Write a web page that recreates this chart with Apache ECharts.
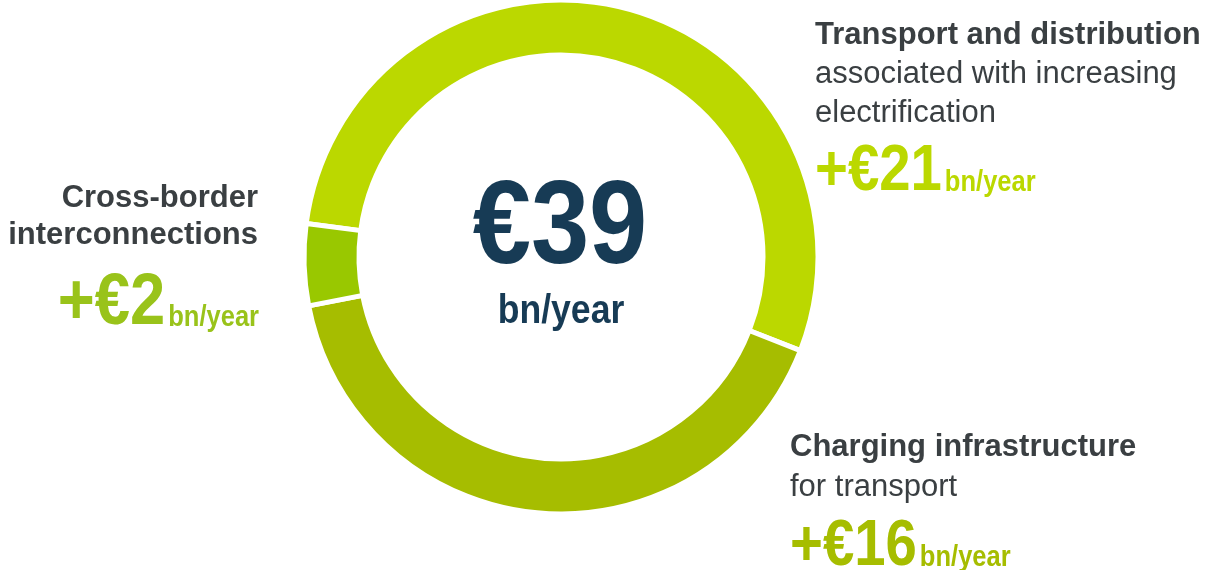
<!DOCTYPE html>
<html><head><meta charset="utf-8">
<script src="https://cdn.jsdelivr.net/npm/echarts@6/dist/echarts.min.js"></script>
<style>html,body{margin:0;padding:0;background:#fff}#c{width:1207px;height:570px}</style>
</head><body><div id="c"></div>
<script>
const categories = ['Transport and distribution', 'Charging infrastructure', 'Cross-border interconnections'];
const subtitles = ['associated with increasing\nelectrification', 'for transport', ''];
const values = [21, 16, 2];
const unit = 'bn/year';
const colors = ['#bbd800', '#a6bd00', '#99c800'];

const total = values.reduce((a, b) => a + b, 0);
const sans = "Liberation Sans";
const dark = '#3a3f42';
const NARROW = 0.88;

const cv = document.createElement('canvas').getContext('2d');
function w(text, size, weight) { cv.font = weight + ' ' + size + 'px "' + sans + '"'; return cv.measureText(text).width; }

const chart = echarts.init(document.getElementById('c'), null, {renderer: 'canvas'});
const graphics = [];
// base = alphabetic baseline; text drawn with verticalAlign middle
function txt(x, base, text, size, weight, color, align, sx) {
  graphics.push({type: 'text', x: x, y: base - (0.32 * size - 2.5), scaleX: sx || 1, scaleY: 1,
    style: {text: text, fill: color, fontFamily: sans, fontSize: size, fontWeight: weight, align: align || 'left', verticalAlign: 'middle'}});
}
function valueLine(x, base, val, color, align, bf) {
  const big = '+€' + val;
  const sf = 29;
  const bw = w(big, bf, 'bold') * NARROW;
  const sw = w(unit, sf, 'bold') * NARROW;
  const x0 = align === 'right' ? x - bw - sw - 3 : x;
  txt(x0, base, big, bf, 'bold', color, 'left', NARROW);
  txt(x0 + bw + 3, base, unit, sf, 'bold', color, 'left', NARROW);
}

const FS = 31;
// Transport block (top right)
txt(815, 43, categories[0], FS, 'bold', dark);
subtitles[0].split('\n').forEach((l, i) => txt(815, 82 + i * 38.5, l, FS, 'normal', dark));
valueLine(815, 190, values[0], colors[0], 'left', 64);
// Charging block (bottom right)
txt(790, 455, categories[1], FS, 'bold', dark);
txt(790, 495, subtitles[1], FS, 'normal', dark);
valueLine(790, 565, values[1], colors[1], 'left', 64);
// Cross-border block (left)
txt(258, 206, 'Cross-border', FS, 'bold', dark, 'right');
txt(258, 243, 'interconnections', FS, 'bold', dark, 'right');
valueLine(259, 325, values[2], '#99c31a', 'right', 72);
// Centre total
txt(560, 266, '€' + total, 119, 'bold', '#173b55', 'center', NARROW);
txt(561, 322, unit, 40, 'bold', '#173b55', 'center', 0.89);

chart.setOption({
  animation: false,
  series: [{
    type: 'pie',
    center: [561, 257],
    radius: [202, 257],
    startAngle: 172.5,
    clockwise: true,
    label: {show: false},
    labelLine: {show: false},
    silent: true,
    itemStyle: {borderColor: '#fff', borderWidth: 5},
    data: values.map((v, i) => ({name: categories[i], value: v, itemStyle: {color: colors[i]}}))
  }],
  graphic: graphics
});
</script></body></html>
